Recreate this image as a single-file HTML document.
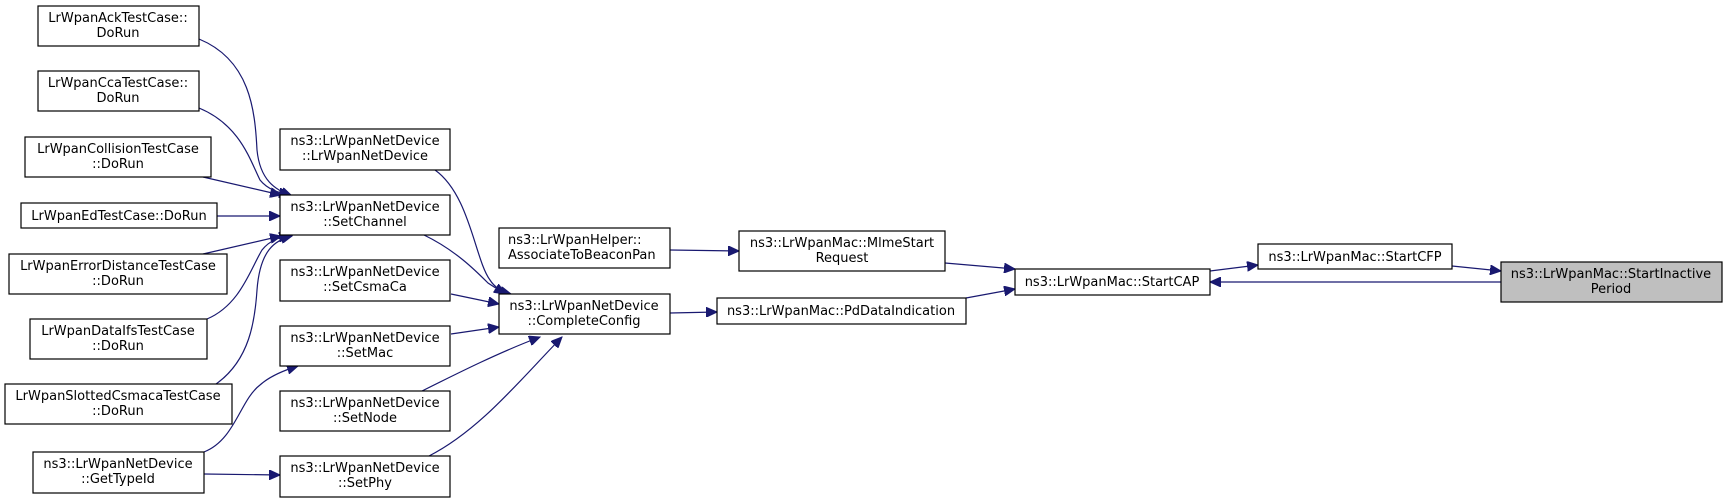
<!DOCTYPE html>
<html><head><meta charset="utf-8"><style>
html,body{margin:0;padding:0;background:#fff;}
svg{display:block;}
text{font-family:"DejaVu Sans","Liberation Sans",sans-serif;font-size:13px;fill:#000;}
rect{fill:#fff;stroke:#000;stroke-width:1.2;}
path{fill:none;stroke:#191970;stroke-width:1.2;}
</style></head><body>
<svg width="1723" height="503" viewBox="0 0 1723 503" xmlns="http://www.w3.org/2000/svg">
<defs>
<marker id="a" markerUnits="userSpaceOnUse" markerWidth="12" markerHeight="10" refX="11" refY="5" orient="auto">
<polygon points="0,0 11,5 0,10" fill="#191970" stroke="#191970"/>
</marker>
</defs>
<g>
<path marker-end="url(#a)" d="M199,39 C250,60 255,110 257,150 C260,180 275,190 292,196"/>
<path marker-end="url(#a)" d="M199,108 C240,125 250,160 260,180 C268,190 280,193 290,195"/>
<path marker-end="url(#a)" d="M203,177 L281,195"/>
<path marker-end="url(#a)" d="M217,216 L280,216"/>
<path marker-end="url(#a)" d="M203,254 L281,236"/>
<path marker-end="url(#a)" d="M207,319 C240,305 250,270 262,250 C270,240 280,237 290,236"/>
<path marker-end="url(#a)" d="M216,384 C250,360 255,320 257,290 C260,250 275,240 292,236"/>
<path marker-end="url(#a)" d="M204,452 C235,440 240,400 260,385 C270,376 285,370 298,366"/>
<path marker-end="url(#a)" d="M204,474 L280,475"/>
<path marker-end="url(#a)" d="M435,170 C470,195 475,260 490,280 C495,288 503,292 511,294"/>
<path marker-end="url(#a)" d="M424,235 C455,250 475,270 488,283 L505,294"/>
<path marker-end="url(#a)" d="M451,294 L499,304"/>
<path marker-end="url(#a)" d="M451,334 L499,327"/>
<path marker-end="url(#a)" d="M422,391 C460,372 500,352 540,337"/>
<path marker-end="url(#a)" d="M429,456 C480,430 520,380 562,337"/>
<path marker-end="url(#a)" d="M670,250 L739,251"/>
<path marker-end="url(#a)" d="M670,313 L717,312"/>
<path marker-end="url(#a)" d="M945,263 L1015,269"/>
<path marker-end="url(#a)" d="M966,298 L1015,289"/>
<path marker-end="url(#a)" d="M1210,271 L1258,265"/>
<path marker-end="url(#a)" d="M1452,266 L1501,271"/>
<path marker-end="url(#a)" d="M1501,282 L1210,282"/>
</g>
<g text-anchor="middle">
<rect x="38" y="6" width="161" height="40"/><text x="118" y="22">LrWpanAckTestCase::</text><text x="118" y="37">DoRun</text>
<rect x="38" y="71" width="161" height="40"/><text x="118" y="87">LrWpanCcaTestCase::</text><text x="118" y="102">DoRun</text>
<rect x="25" y="137" width="186" height="40"/><text x="118" y="153">LrWpanCollisionTestCase</text><text x="118" y="168">::DoRun</text>
<rect x="21" y="203" width="196" height="25"/><text x="119" y="220">LrWpanEdTestCase::DoRun</text>
<rect x="9" y="254" width="218" height="40"/><text x="118" y="270">LrWpanErrorDistanceTestCase</text><text x="118" y="285">::DoRun</text>
<rect x="30" y="319" width="177" height="40"/><text x="118" y="335">LrWpanDataIfsTestCase</text><text x="118" y="350">::DoRun</text>
<rect x="5" y="384" width="227" height="40"/><text x="118" y="400">LrWpanSlottedCsmacaTestCase</text><text x="118" y="415">::DoRun</text>
<rect x="33" y="452" width="171" height="41"/><text x="118" y="468">ns3::LrWpanNetDevice</text><text x="118" y="483">::GetTypeId</text>
<rect x="280" y="129" width="170" height="41"/><text x="365" y="145">ns3::LrWpanNetDevice</text><text x="365" y="160">::LrWpanNetDevice</text>
<rect x="280" y="195" width="170" height="40"/><text x="365" y="211">ns3::LrWpanNetDevice</text><text x="365" y="226">::SetChannel</text>
<rect x="280" y="260" width="170" height="41"/><text x="365" y="276">ns3::LrWpanNetDevice</text><text x="365" y="291">::SetCsmaCa</text>
<rect x="280" y="326" width="170" height="40"/><text x="365" y="342">ns3::LrWpanNetDevice</text><text x="365" y="357">::SetMac</text>
<rect x="280" y="391" width="170" height="40"/><text x="365" y="407">ns3::LrWpanNetDevice</text><text x="365" y="422">::SetNode</text>
<rect x="280" y="456" width="170" height="41"/><text x="365" y="472">ns3::LrWpanNetDevice</text><text x="365" y="487">::SetPhy</text>
<rect x="499" y="228" width="171" height="40"/><text x="508" y="244" text-anchor="start">ns3::LrWpanHelper::</text><text x="508" y="259" text-anchor="start">AssociateToBeaconPan</text>
<rect x="499" y="294" width="171" height="40"/><text x="584" y="310">ns3::LrWpanNetDevice</text><text x="584" y="325">::CompleteConfig</text>
<rect x="739" y="231" width="206" height="40"/><text x="842" y="247">ns3::LrWpanMac::MlmeStart</text><text x="842" y="262">Request</text>
<rect x="717" y="298" width="249" height="26"/><text x="841" y="315">ns3::LrWpanMac::PdDataIndication</text>
<rect x="1015" y="269" width="195" height="26"/><text x="1112" y="286">ns3::LrWpanMac::StartCAP</text>
<rect x="1258" y="244" width="194" height="25"/><text x="1355" y="261">ns3::LrWpanMac::StartCFP</text>
<rect x="1501" y="262" width="221" height="40" style="fill:#bfbfbf"/><text x="1611" y="278">ns3::LrWpanMac::StartInactive</text><text x="1611" y="293">Period</text>
</g>
</svg>
</body></html>
